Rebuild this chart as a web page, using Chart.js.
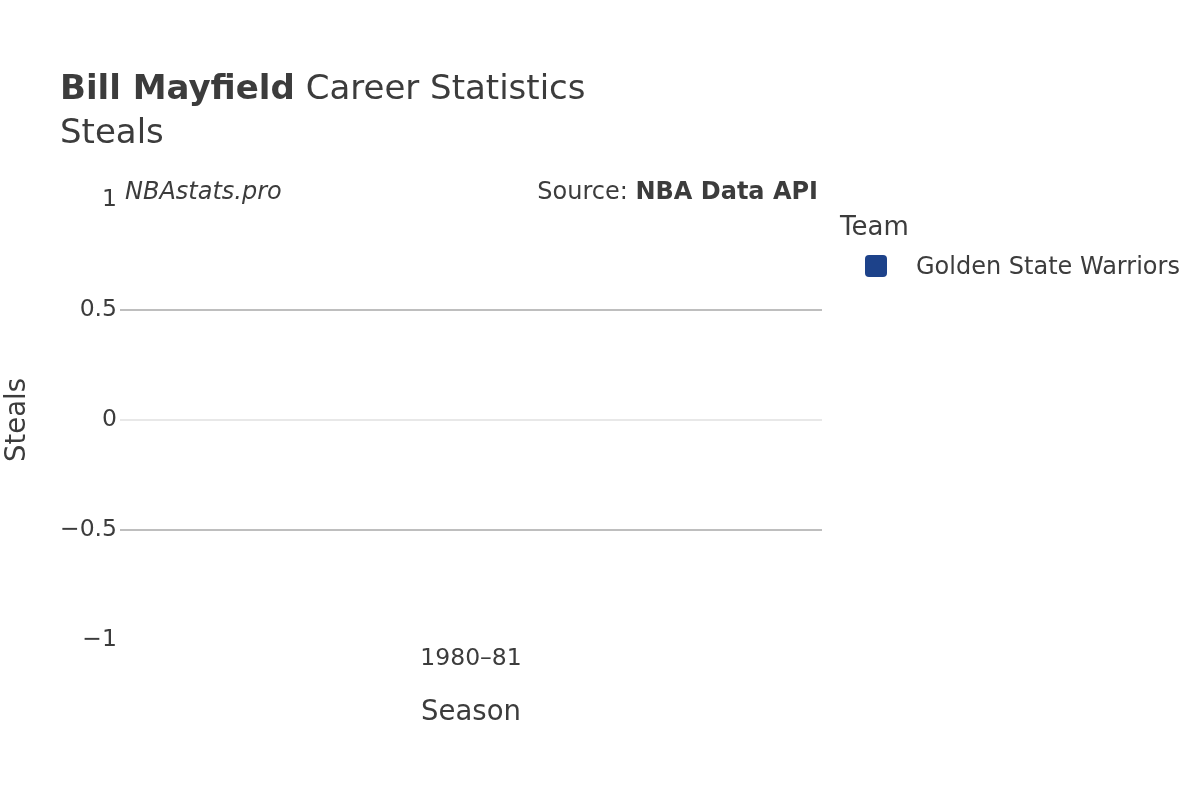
<!DOCTYPE html>
<html>
<head>
<meta charset="utf-8">
<script src="https://cdn.jsdelivr.net/npm/chart.js@4.4.1/dist/chart.umd.min.js"></script>
<style>
  html, body { margin: 0; padding: 0; background: #fff; }
  #wrap { width: 1200px; height: 800px; position: relative; }
</style>
</head>
<body>
<div id="wrap"><canvas id="chart" width="1200" height="800"></canvas></div>
<script>
// --- data ---
const seasons = ['1980–81'];
const teams = ['Golden State Warriors'];
const steals = [0];
const teamColors = ['#1d428a'];
const yTicks = [-1, -0.5, 0, 0.5, 1];

const FONT = '"DejaVu Sans", "Liberation Sans", sans-serif';
const TEXT = '#3c3c3c';

// titles, annotations and legend drawn by hand (Plotly-like layout)
const decorations = {
    id: 'decorations',
    afterDraw(chart) {
        const ctx = chart.ctx;
        ctx.save();
        ctx.fillStyle = TEXT;
        ctx.textBaseline = 'middle';
        ctx.textAlign = 'left';

        // title
        ctx.font = 'bold 34px ' + FONT;
        const bold = 'Bill Mayfield';
        ctx.fillText(bold, 60, 90);
        const w = ctx.measureText(bold).width;
        ctx.font = '34px ' + FONT;
        ctx.fillText(' Career Statistics', 60 + w, 90);
        ctx.fillText('Steals', 60, 134);

        // annotations
        ctx.font = 'italic 24px ' + FONT;
        ctx.fillText('NBAstats.pro', 125, 193);
        ctx.font = 'bold 24px ' + FONT;
        const src = 'NBA Data API';
        const sw = ctx.measureText(src).width;
        ctx.textAlign = 'right';
        ctx.fillText(src, 818, 193);
        ctx.font = '24px ' + FONT;
        ctx.fillText('Source: ', 818 - sw, 193);

        // legend
        ctx.textAlign = 'left';
        ctx.font = '26px ' + FONT;
        ctx.fillText('Team', 840, 228);
        teams.forEach((t, i) => {
            const y = 266 + i * 36;
            ctx.fillStyle = teamColors[i];
            ctx.beginPath();
            ctx.roundRect(865, y - 11, 22, 22, 4);
            ctx.fill();
            ctx.fillStyle = TEXT;
            ctx.font = '24px ' + FONT;
            ctx.fillText(t, 916, y + 2);
        });
        ctx.restore();
    }
};

const fmt = v => (v < 0 ? '\u2212' + Math.abs(v) : String(v));

new Chart(document.getElementById('chart'), {
    type: 'bar',
    data: {
        labels: seasons,
        datasets: teams.map((t, i) => ({
            label: t,
            data: steals,
            backgroundColor: teamColors[i],
            borderColor: 'rgba(255,255,255,0.6)',
            borderWidth: 1,
            categoryPercentage: 1,
            barPercentage: 0.8
        }))
    },
    options: {
        responsive: false,
        animation: false,
        devicePixelRatio: 1,
        layout: { padding: { top: 200, right: 378, left: 0, bottom: 0 } },
        plugins: {
            legend: { display: false },
            tooltip: { enabled: false }
        },
        scales: {
            x: {
                grid: { display: false, drawTicks: false },
                border: { display: false },
                ticks: { color: TEXT, font: { family: FONT, size: 23.5 }, padding: 5 },
                title: {
                    display: true, text: 'Season', color: TEXT,
                    font: { family: FONT, size: 27.5 },
                    padding: { top: 0, bottom: 71 }
                },
                afterFit(s) { s.height = 160; }
            },
            y: {
                min: -1, max: 1,
                afterBuildTicks(s) { s.ticks = yTicks.map(v => ({ value: v })); },
                grid: {
                    drawTicks: false,
                    lineWidth: 2,
                    color: c => {
                        const v = c.tick.value;
                        if (v === 0) return '#e8e8e8';
                        if (Math.abs(v) === 1) return 'rgba(0,0,0,0)';
                        return '#bebebe';
                    }
                },
                border: { display: false },
                ticks: {
                    color: TEXT, font: { family: FONT, size: 23.5 }, padding: 3,
                    callback: v => fmt(v)
                },
                title: {
                    display: true, text: 'Steals', color: TEXT,
                    font: { family: FONT, size: 27.5 },
                    padding: { top: 1, bottom: 0 }
                },
                afterFit(s) { s.width = 120; }
            }
        }
    },
    plugins: [decorations]
});
</script>
</body>
</html>
